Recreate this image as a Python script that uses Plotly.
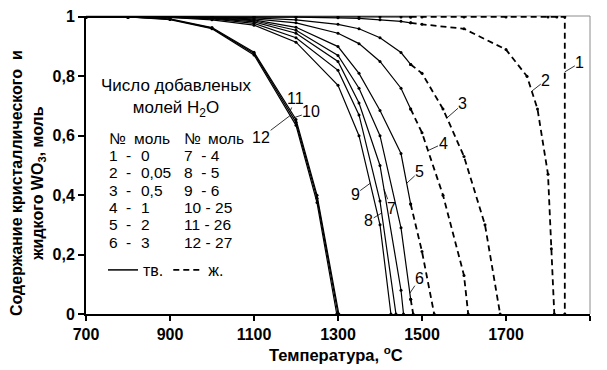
import plotly.graph_objects as go

# ---------------- data ----------------
T_GRID = [700, 800, 900, 1000, 1100, 1200, 1300, 1350, 1400, 1450, 1473]

c1_s = [1.000, 1.000, 1.000, 1.000, 1.000, 1.000, 1.000, 1.000, 1.000, 1.000, 1.000]
c1_lT = [1473, 1500, 1600, 1700, 1800, 1821, 1840, 1840]
c1_lv = [1.000, 1.000, 1.000, 1.000, 1.000, 1.000, 1.000, 0.000]

c2_s = [1.000, 1.000, 1.000, 1.000, 1.000, 0.999, 0.997, 0.995, 0.990, 0.985, 0.980]
c2_lT = [1473, 1500, 1600, 1700, 1750, 1775, 1800, 1808, 1815]
c2_lv = [0.980, 0.975, 0.960, 0.890, 0.800, 0.690, 0.470, 0.220, 0.000]

c3_s = [1.000, 1.000, 1.000, 0.999, 0.997, 0.990, 0.975, 0.960, 0.930, 0.880, 0.840]
c3_lT = [1473, 1500, 1550, 1600, 1650, 1686]
c3_lv = [0.840, 0.810, 0.690, 0.530, 0.300, 0.000]

c4_s = [1.000, 1.000, 1.000, 0.998, 0.993, 0.980, 0.945, 0.910, 0.850, 0.760, 0.690]
c4_lT = [1473, 1500, 1550, 1600, 1610]
c4_lv = [0.690, 0.610, 0.400, 0.130, 0.000]

c5_s = [1.000, 1.000, 1.000, 0.997, 0.990, 0.965, 0.900, 0.810, 0.685, 0.540, 0.370]
c5_lT = [1473, 1500, 1529]
c5_lv = [0.370, 0.210, 0.000]

c6_s = [1.000, 1.000, 0.999, 0.996, 0.987, 0.955, 0.870, 0.760, 0.600, 0.290, 0.050]
c6_lT = [1473, 1479]
c6_lv = [0.050, 0.000]

c7_T = [700, 800, 900, 1000, 1100, 1200, 1300, 1350, 1400, 1450, 1456]
c7_v = [1.000, 1.000, 0.999, 0.995, 0.983, 0.945, 0.850, 0.710, 0.500, 0.080, 0.000]
c8_T = [700, 800, 900, 1000, 1100, 1200, 1300, 1350, 1400, 1438]
c8_v = [1.000, 1.000, 0.998, 0.993, 0.978, 0.930, 0.820, 0.670, 0.380, 0.000]
c9_T = [700, 800, 900, 1000, 1100, 1200, 1300, 1350, 1400, 1426]
c9_v = [1.000, 1.000, 0.998, 0.990, 0.972, 0.915, 0.770, 0.600, 0.300, 0.000]

c10_T = [700, 800, 900, 1000, 1100, 1200, 1250, 1300]
c10_v = [1.000, 1.000, 0.992, 0.962, 0.877, 0.645, 0.390, 0.000]
c11_T = [700, 800, 900, 1000, 1100, 1200, 1250, 1302]
c11_v = [1.000, 1.000, 0.993, 0.964, 0.881, 0.655, 0.400, 0.000]
c12_T = [700, 800, 900, 1000, 1100, 1200, 1250, 1297]
c12_v = [1.000, 1.000, 0.991, 0.960, 0.872, 0.635, 0.375, 0.000]

# curve labels: level (mol) at which the leader touches the curve
LABEL_LEVEL = {1: 0.815, 2: 0.75, 3: 0.66, 4: 0.55, 5: 0.44, 6: 0.07,
               7: 0.42, 8: 0.34, 9: 0.44, 10: 0.66, 11: 0.685, 12: 0.668}

TABLE_NUMS = ["1", "2", "3", "4", "5", "6", "7", "8", "9", "10", "11", "12"]
TABLE_MOLES = ["0", "0,05", "0,5", "1", "2", "3", "4", "5", "6", "25", "26", "27"]

X_TICKS = [700, 900, 1100, 1300, 1500, 1700, 1900]
Y_TICKS = [0, 0.2, 0.4, 0.6, 0.8, 1.0]
Y_TICK_TEXT = ["0", "0,2", "0,4", "0,6", "0,8", "1"]

# ---------------- figure ----------------
W, H = 607, 370
ML, MR, MT, MB = 86, 17, 16, 56
PW, PH = W - ML - MR, H - MT - MB
FONT = "Liberation Sans, Arial, sans-serif"


def px_x(p):
    return (p - ML) / PW


def px_y(p):
    return (MT + PH - p) / PH


solid_style = dict(color="black", width=1.2)
dash_style = dict(color="black", width=1.8, dash="6px,4px")
mark = dict(size=3, color="black")

curves = {
    1: (T_GRID, c1_s, c1_lT, c1_lv),
    2: (T_GRID, c2_s, c2_lT, c2_lv),
    3: (T_GRID, c3_s, c3_lT, c3_lv),
    4: (T_GRID, c4_s, c4_lT, c4_lv),
    5: (T_GRID, c5_s, c5_lT, c5_lv),
    6: (T_GRID, c6_s, c6_lT, c6_lv),
    7: (c7_T, c7_v, [], []),
    8: (c8_T, c8_v, [], []),
    9: (c9_T, c9_v, [], []),
    10: (c10_T, c10_v, [], []),
    11: (c11_T, c11_v, [], []),
    12: (c12_T, c12_v, [], []),
}

fig = go.Figure()
for k, (sT, sv, lT, lv) in curves.items():
    fig.add_trace(go.Scatter(x=sT, y=sv, mode="lines+markers", line=solid_style,
                             marker=mark, showlegend=False, hoverinfo="skip"))
    if lT:
        fig.add_trace(go.Scatter(x=lT, y=lv, mode="lines+markers", line=dash_style,
                                 marker=mark, showlegend=False, hoverinfo="skip"))

# legend entries
fig.add_trace(go.Scatter(x=[None], y=[None], mode="lines", line=dict(color="black", width=1.5),
                         name="тв."))
fig.add_trace(go.Scatter(x=[None], y=[None], mode="lines",
                         line=dict(color="black", width=1.8, dash="6px,4px"), name="ж."))


def t_at(level, T, V):
    for i in range(len(T) - 1):
        if V[i] != V[i + 1] and V[i] >= level >= V[i + 1]:
            return T[i] + (V[i] - level) / (V[i] - V[i + 1]) * (T[i + 1] - T[i])
    return None


label_offsets = {1: (15, -9), 2: (14, -11), 3: (16, -14), 4: (15, -7), 5: (13, -12),
                 6: (10, -15), 7: (7, 19), 8: (-13, 8), 9: (-15, 11), 10: (18, -6),
                 11: (5, -12), 12: (-29, 22)}

annotations = []
for k, (sT, sv, lT, lv) in curves.items():
    T_all = list(sT) + list(lT)
    V_all = list(sv) + list(lv)
    lvl = LABEL_LEVEL[k]
    t = t_at(lvl, T_all, V_all)
    ax, ay = label_offsets[k]
    annotations.append(dict(x=t, y=lvl, xref="x", yref="y", text=str(k), showarrow=True,
                            arrowhead=0, arrowwidth=0.8, arrowcolor="black", ax=ax, ay=ay,
                            standoff=0, borderpad=0,
                            font=dict(family=FONT, size=16, color="black")))

# inset title
annotations.append(dict(x=px_x(176), y=px_y(98), xref="paper", yref="paper",
                        text="Число добавленых<br>молей H<sub>2</sub>O", showarrow=False,
                        align="center", xanchor="center", yanchor="middle",
                        font=dict(family=FONT, size=17, color="black")))

tfont = dict(family=FONT, size=15.5, color="black")
row_y0, row_dy = 138, 17.4
# headers
for xl, txt in [(107, "№"), (132, "моль"), (182, "№"), (206, "моль")]:
    annotations.append(dict(x=px_x(xl), y=px_y(row_y0), xref="paper", yref="paper",
                            text=txt, showarrow=False, xanchor="left", yanchor="middle",
                            font=tfont))
for i, (n, m) in enumerate(zip(TABLE_NUMS, TABLE_MOLES)):
    r = i % 6
    y = px_y(row_y0 + row_dy * (r + 1))
    if i < 6:
        for xl, txt in [(107, n), (124, "-"), (139, m)]:
            annotations.append(dict(x=px_x(xl), y=y, xref="paper", yref="paper", text=txt,
                                    showarrow=False, xanchor="left", yanchor="middle",
                                    font=tfont))
    else:
        sp = "\u00a0\u00a0" if len(n) == 1 else "\u00a0"
        annotations.append(dict(x=px_x(182), y=y, xref="paper", yref="paper",
                                text=n + sp + "-\u00a0" + m, showarrow=False,
                                xanchor="left", yanchor="middle", font=tfont))

# axis titles
annotations.append(dict(x=px_x(336), y=px_y(354), xref="paper", yref="paper",
                        text="<b>Температура, <sup>o</sup>C</b>", showarrow=False,
                        xanchor="center", yanchor="middle",
                        font=dict(family=FONT, size=16.5, color="black")))
annotations.append(dict(x=px_x(28), y=px_y(183), xref="paper", yref="paper",
                        text="<b>Содержание кристаллического\u00a0\u00a0и<br>жидкого WO<sub>3</sub>, моль</b>",
                        showarrow=False, textangle=-90, xanchor="center", yanchor="middle",
                        font=dict(family=FONT, size=16, color="black")))

fig.update_layout(
    width=W, height=H,
    margin=dict(l=ML, r=MR, t=MT, b=MB, pad=0, autoexpand=False),
    paper_bgcolor="white", plot_bgcolor="white",
    font=dict(family=FONT, color="black"),
    showlegend=True,
    legend=dict(orientation="h", x=px_x(103), y=px_y(270), xanchor="left", yanchor="middle",
                font=dict(family=FONT, size=16, color="black"), bgcolor="rgba(0,0,0,0)",
                itemwidth=30, tracegroupgap=0),
    annotations=annotations,
    shapes=[
        dict(type="line", xref="paper", yref="paper", x0=0, x1=1, y0=1, y1=1,
             line=dict(color="#8c8c8c", width=1), layer="below"),
        dict(type="line", xref="paper", yref="paper", x0=1, x1=1, y0=0, y1=1,
             line=dict(color="#8c8c8c", width=1), layer="below"),
    ],
)
fig.update_xaxes(range=[700, 1900], tickvals=X_TICKS, ticks="outside", ticklen=5,
                 tickwidth=1.5, tickcolor="black", showline=True, linecolor="black",
                 linewidth=2, showgrid=False, zeroline=False, automargin=False,
                 tickfont=dict(family=FONT, size=16, color="black", weight="bold"))
fig.update_yaxes(range=[0, 1.003], tickvals=Y_TICKS, ticktext=Y_TICK_TEXT, ticks="outside",
                 ticklen=6, tickwidth=1.5, tickcolor="black", showline=True,
                 linecolor="black", linewidth=2, showgrid=False, zeroline=False,
                 automargin=False,
                 tickfont=dict(family=FONT, size=16, color="black", weight="bold"))

fig.write_html("out.html", config={"displayModeBar": False},
               post_script="document.body.style.margin='0';document.body.style.overflow='hidden';")
